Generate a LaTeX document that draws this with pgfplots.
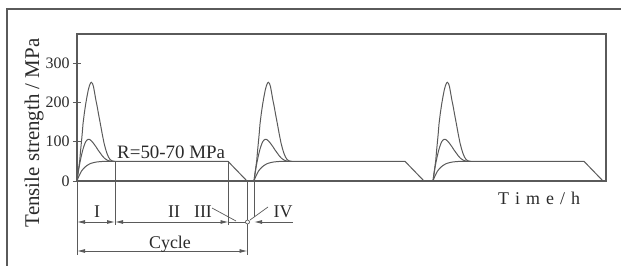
\documentclass[border=0pt]{standalone}
\usepackage{fontspec}
\setmainfont{Liberation Serif}
\usepackage{pgfplots}
\pgfplotsset{compat=1.18}
\usepackage{pgfplotstable}
\usetikzlibrary{arrows.meta}
\definecolor{ln}{HTML}{5A5A5A}
\definecolor{tx}{HTML}{2A2A2A}

\pgfplotstableread{
t v
0 0
1 20
2 38
2.7 51
3.5 75
4.3 96
5.2 120
6 145
7.3 172
8.7 196
10 215
11.3 232
12.5 243
13.5 249
14.4 251
15.5 248
16.5 240
17.5 226
18.8 207
20 192
21.7 168
23.4 145
25.2 120
27 97
28.5 82
30 70
31.5 61
33 55
34.5 52
36 50.5
38 50
}\bigc

\pgfplotstableread{
t v
0 0
1 18
2 34
3 48
4 60
5 71
6 81
7 89
8 96
9 101
10 104
11 106
12 106
13 105
14 103
15.5 99
17 94
19 87
21 79
23 72
25 65
27 59
29 55
31 52
33 50.7
36 50
}\midc

\pgfplotstableread{
t v
0 0
1 7
2 13
3 18
4 23
5 27
6 30
8 35.5
10 39.5
12 42.5
14 45
17 47
20 48.5
24 49.5
28 50
36 50
}\smallc

\pgfplotstableread{
t v
36 50
151 50
170 0
}\plat

\begin{document}
\begin{tikzpicture}
\useasboundingbox (0,0) rectangle (621bp,266bp);
\draw[ln, line width=1.3bp] (7bp,0bp) -- (7bp,257bp) -- (621bp,257bp);
\begin{axis}[
  at={(77bp,85bp)}, anchor=south west,
  scale only axis, width=529bp, height=147bp,
  xmin=0, xmax=529, ymin=0, ymax=374,
  axis line style={ln, line width=1.2bp},
  xtick=\empty, ytick={0,100,200,300}, ytick pos=left,
  tick align=center, major tick length=8bp,
  tick style={ln, line width=0.8bp},
  yticklabel style={font=\fontsize{16}{16}\selectfont, text=tx},
  /pgf/number format/assume math mode=true,
  clip=false,
]
\pgfplotsinvokeforeach{0,177,356}{
  \addplot[ln, line width=1bp, solid] table[x expr=\thisrow{t}+#1, y=v]{\bigc};
  \addplot[ln, line width=1bp, solid] table[x expr=\thisrow{t}+#1, y=v]{\midc};
  \addplot[ln, line width=1bp, solid] table[x expr=\thisrow{t}+#1, y=v]{\smallc};
  \addplot[ln, line width=1bp, solid] table[x expr=\thisrow{t}+#1, y=v]{\plat};
}
\draw[ln, line width=1.8bp] (axis cs:0,0) -- (axis cs:529,0);
\end{axis}
\begin{scope}[ln, line width=0.9bp]
\draw (77bp,85bp) -- (77bp,11bp);
\draw (115bp,104.5bp) -- (115bp,41bp);
\draw (228.5bp,104.5bp) -- (228.5bp,41bp);
\draw (247.5bp,85bp) -- (247.5bp,11bp);
\draw (254bp,85bp) -- (254bp,49bp);
\draw[{Latex[length=8bp,width=4bp]}-{Latex[length=8bp,width=4bp]}] (77bp,44bp) -- (115bp,44bp);
\draw[{Latex[length=8bp,width=4bp]}-{Latex[length=8bp,width=4bp]}] (115bp,44bp) -- (228.5bp,44bp);
\draw (228.5bp,44bp) -- (245.5bp,44bp);
\draw[fill=white, line width=0.7bp] (247.5bp,44bp) circle (2bp);
\draw[{Latex[length=8bp,width=4bp]}-] (254bp,44bp) -- (293bp,44bp);
\draw[line width=0.7bp] (212bp,58bp) -- (236bp,45bp);
\draw[line width=0.7bp] (268bp,59bp) -- (250bp,46bp);
\draw[{Latex[length=8bp,width=4bp]}-{Latex[length=8bp,width=4bp]}] (77bp,15bp) -- (247.5bp,15bp);
\end{scope}
\begin{scope}[text=tx, font=\fontsize{18}{18}\selectfont]
\node at (97bp,54bp) {I};
\node at (174bp,54bp) {II};
\node at (203bp,54bp) {III};
\node at (283bp,54bp) {IV};
\node[anchor=base] at (170bp,18bp) {Cycle};
\node[anchor=base west, inner sep=0pt, font=\fontsize{19}{19}\selectfont] at (117bp,107bp) {R=50-70 MPa};
\node[anchor=base west, inner sep=0pt] at (498bp,61bp) {T\hspace{6bp}i\hspace{6bp}m\hspace{6bp}e\hspace{6bp}/\hspace{6bp}h};
\node[rotate=90, font=\fontsize{21}{21}\selectfont] at (34bp,133bp) {Tensile strength / MPa};
\end{scope}
\end{tikzpicture}
\end{document}
